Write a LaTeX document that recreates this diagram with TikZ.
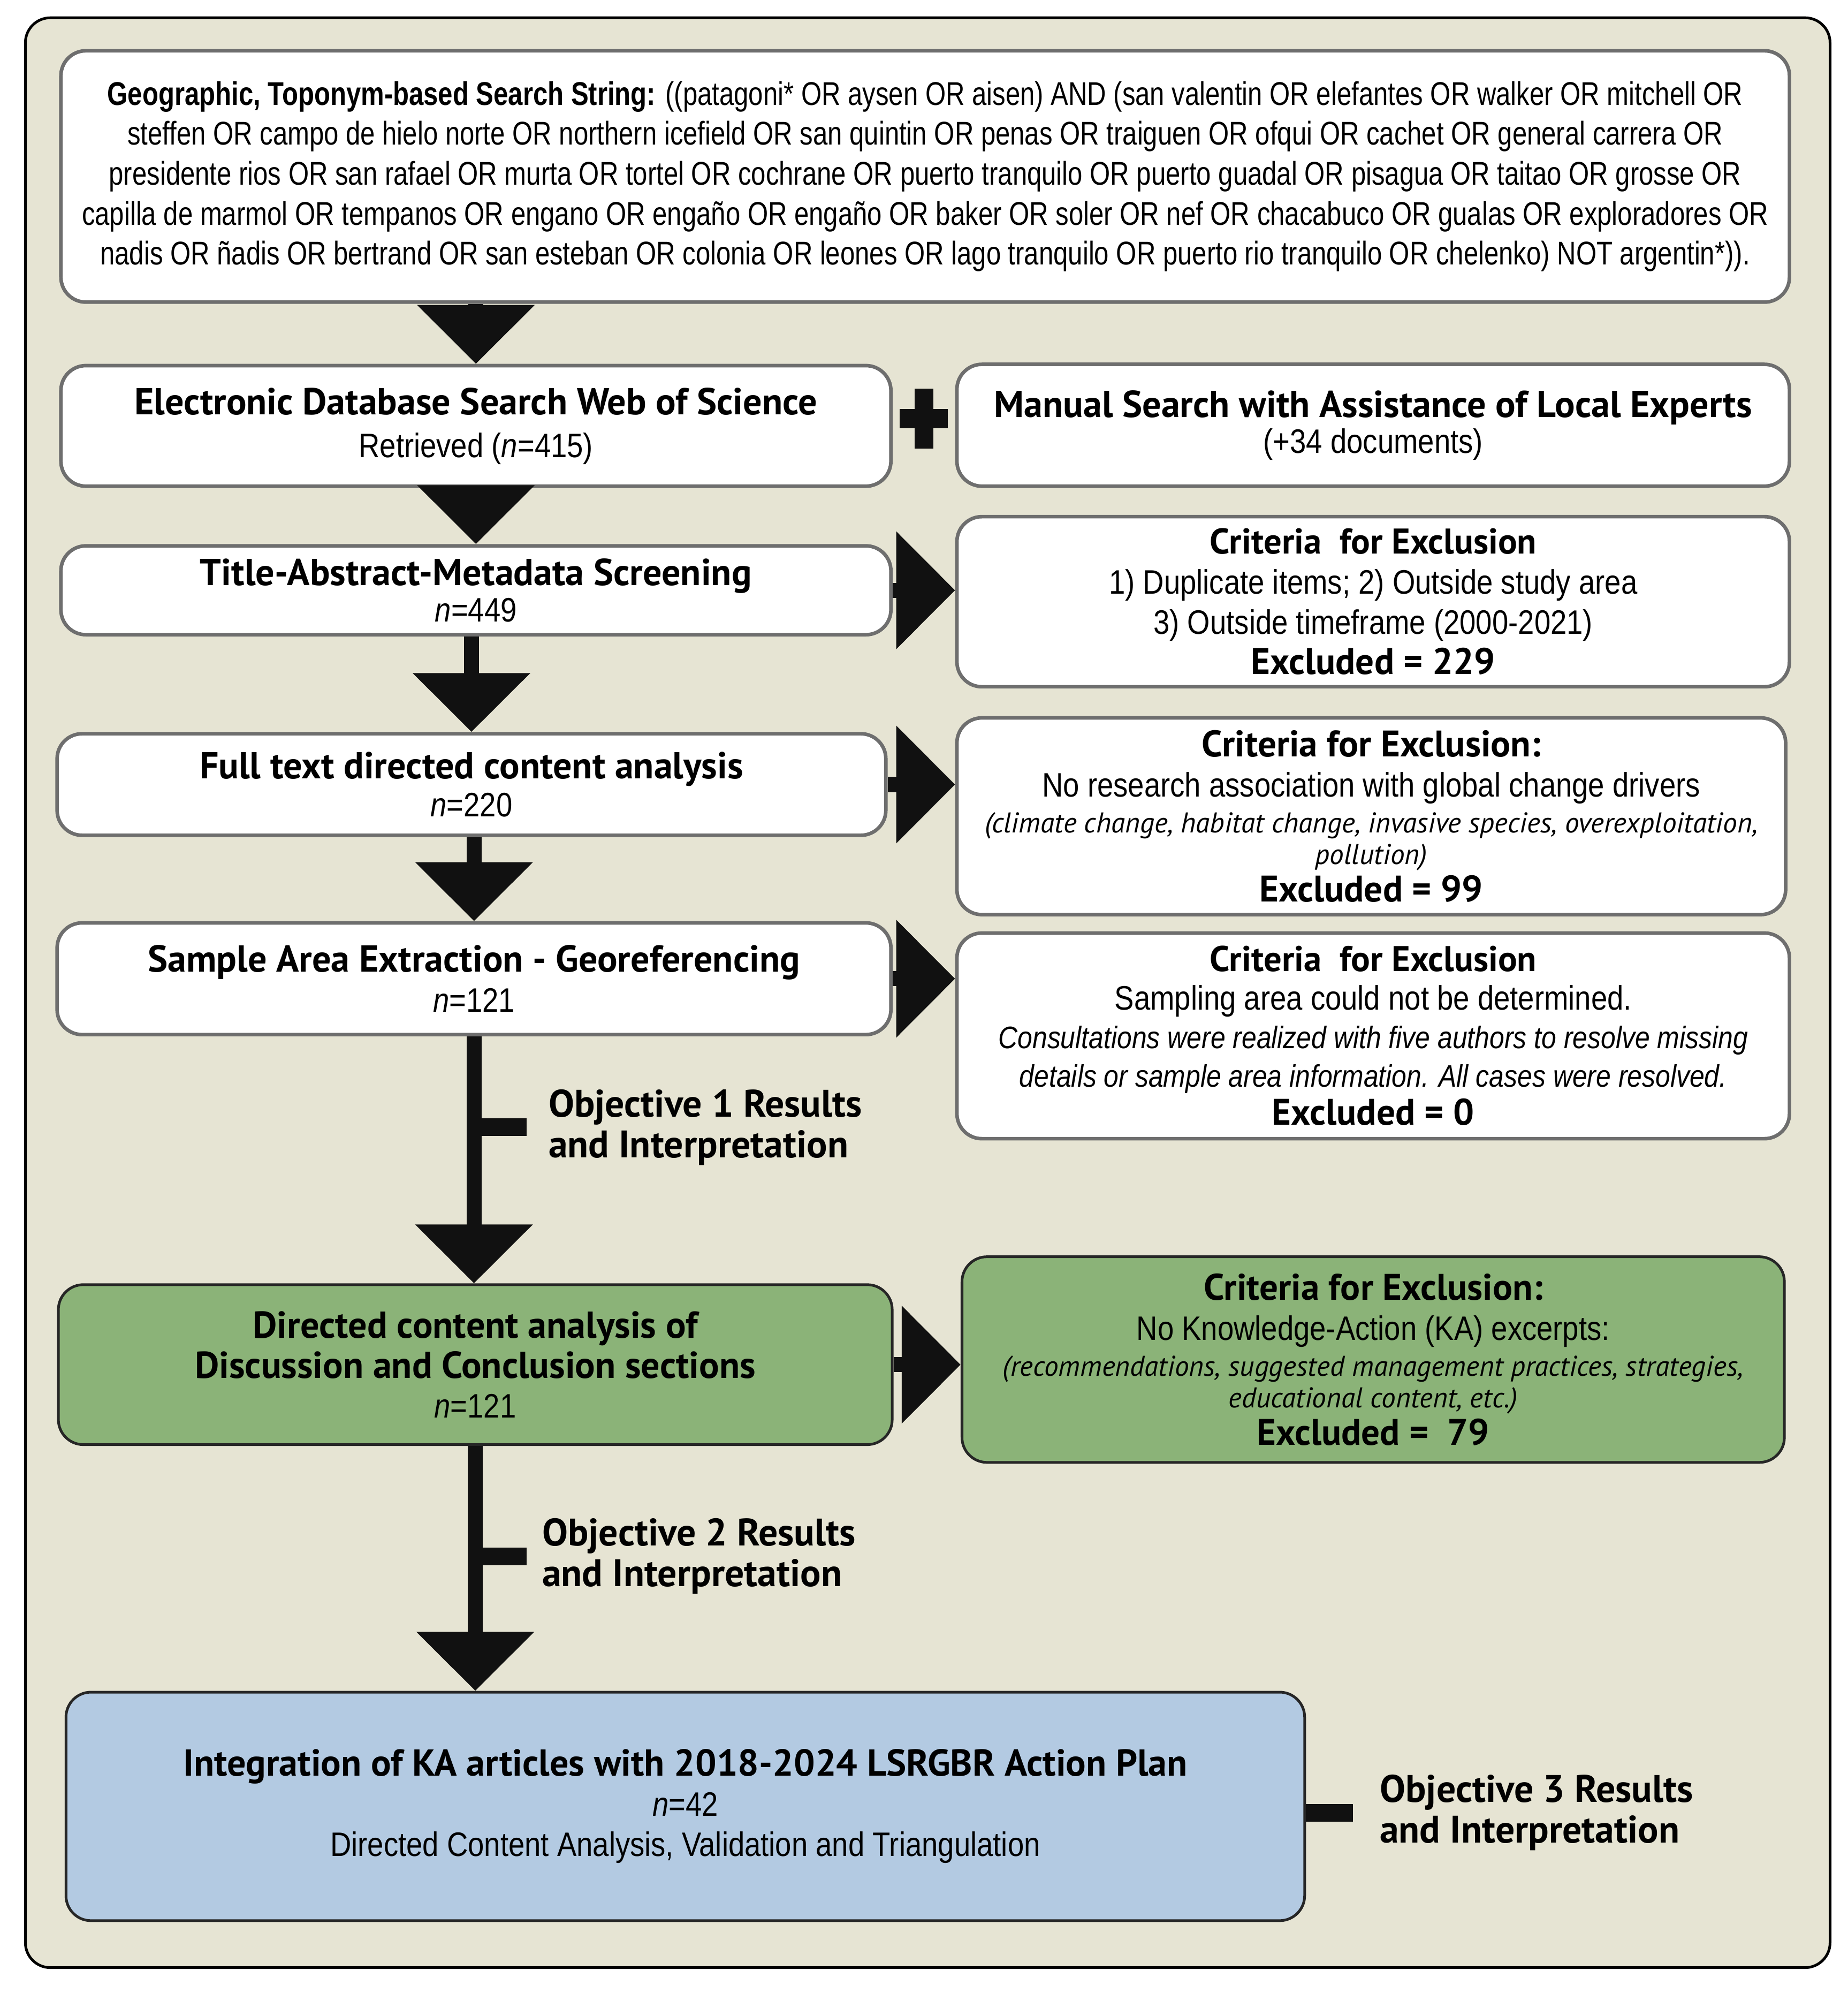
\documentclass[tikz,border=0pt]{standalone}
\usepackage{fontspec}
\setmainfont{PT Sans}
\newfontfamily\narf{Liberation Sans}[FakeStretch=0.8]
\newfontfamily\narb{Liberation Sans}[FakeStretch=0.86]
\usetikzlibrary{arrows.meta,calc}
\definecolor{bgc}{HTML}{E6E4D3}
\definecolor{grn}{HTML}{8BB378}
\definecolor{blu}{HTML}{B3CAE2}
\definecolor{boxedge}{HTML}{6E6E6E}
\definecolor{arr}{HTML}{111111}
\begin{document}
\begin{tikzpicture}[x=0.025cm,y=-0.025cm,
  box/.style={draw=boxedge, line width=2pt, fill=white, rounded corners=14pt, inner sep=0pt, align=center,
    font=\narb\fontsize{19}{22.5}\selectfont},
  gbox/.style={box, draw=black!85, line width=1.5pt, fill=grn},
  bbox/.style={box, draw=black!85, line width=1.5pt, fill=blu},
  flow/.style={line width=8.5pt, draw=arr, -{Triangle[length=33pt,width=64pt]}},
  tickline/.style={line width=10pt, draw=arr},
  objl/.style={font=\bfseries\fontsize{21.5}{22.8}\selectfont, align=left, anchor=west, inner sep=0pt}]
\newcommand{\ttl}[1]{{\rmfamily\bfseries\fontsize{21}{23}\selectfont #1}}
\newcommand{\crh}[1]{{\rmfamily\bfseries\fontsize{20}{23}\selectfont #1}}
\newcommand{\exl}[1]{{\rmfamily\bfseries\fontsize{20.7}{23}\selectfont #1}}
\newcommand{\sml}[1]{{\rmfamily\itshape\fontsize{16}{18}\selectfont #1}}
\newcommand{\cit}[1]{{\itshape\fontsize{17.4}{21}\selectfont #1}}
\useasboundingbox (0,0) rectangle (1456,1570);
\fill[white] (0,0) rectangle (1456,1570);
\draw[fill=bgc, line width=1.5pt, rounded corners=14pt] (20,14) rectangle (1442,1550);

\node[box, minimum width=1362*0.025cm, minimum height=198*0.025cm, font=\narf\fontsize{18.4}{22.4}\selectfont] (top) at (729,139)
{{\bfseries Geographic, Toponym-based Search String:} ((patagoni* OR aysen OR aisen) AND (san valentin OR elefantes OR walker OR mitchell OR\\
steffen OR campo de hielo norte OR northern icefield OR san quintin OR penas OR traiguen OR ofqui OR cachet OR general carrera OR\\
presidente rios OR san rafael OR murta OR tortel OR cochrane OR puerto tranquilo OR puerto guadal OR pisagua OR taitao OR grosse OR\\
capilla de marmol OR tempanos OR engano OR engaño OR engaño OR baker OR soler OR nef OR chacabuco OR gualas OR exploradores OR\\
nadis OR ñadis OR bertrand OR san esteban OR colonia OR leones OR lago tranquilo OR puerto rio tranquilo OR chelenko) NOT argentin*)).};

\node[box, minimum width=654*0.025cm, minimum height=95*0.025cm] (eds) at (375,335.5)
{\ttl{Electronic Database Search Web of Science}\\[1.5pt] Retrieved (\textit{n}=415)};
\node[box, minimum width=656*0.025cm, minimum height=96*0.025cm] (man) at (1082,335)
{\ttl{Manual Search with Assistance of Local Experts}\\[-2.5pt](+34 documents)};
\node[box, minimum width=654*0.025cm, minimum height=70*0.025cm] (tam) at (375,465)
{\ttl{Title-Abstract-Metadata Screening}\\[-2pt]\textit{n}=449};
\node[box, minimum width=656*0.025cm, minimum height=134*0.025cm] (cr1) at (1082,474)
{\crh{Criteria\ \ for Exclusion}\\1) Duplicate items; 2) Outside study area\\3) Outside timeframe (2000-2021)\\\exl{Excluded = 229}};
\node[box, minimum width=653*0.025cm, minimum height=80*0.025cm] (ftx) at (371.5,618)
{\ttl{Full text directed content analysis}\\[-1pt]\textit{n}=220};
\node[box, minimum width=653*0.025cm, minimum height=155*0.025cm] (cr2) at (1080.5,643)
{\exl{Criteria for Exclusion:}\\No research association with global change drivers\\[-2.5pt]
\sml{(climate change, habitat change, invasive species, overexploitation,}\\[-4.7pt]
\sml{pollution)}\\[-1.5pt]\exl{Excluded = 99}};
\node[box, minimum width=657*0.025cm, minimum height=88*0.025cm] (sae) at (373.5,771)
{\ttl{Sample Area Extraction - Georeferencing}\\\textit{n}=121};
\node[box, minimum width=656*0.025cm, minimum height=162*0.025cm] (cr3) at (1082,816)
{\crh{Criteria\ \ for Exclusion}\\[-1pt]Sampling area could not be determined.\\[-1pt]
\cit{Consultations were realized with five authors to resolve missing}\\[-1pt]
\cit{details or sample area information. All cases were resolved.}\\[-1pt]\exl{Excluded = 0}};
\node[gbox, minimum width=657*0.025cm, minimum height=126*0.025cm] (dca) at (374.5,1075)
{\ttl{Directed content analysis of}\\\ttl{Discussion and Conclusion sections}\\[-0.5pt]\textit{n}=121};
\node[gbox, minimum width=648*0.025cm, minimum height=162*0.025cm] (cr4) at (1082,1071)
{\exl{Criteria for Exclusion:}\\No Knowledge-Action (KA) excerpts:\\[-2.5pt]
\sml{(recommendations, suggested management practices, strategies,}\\[-4.7pt]
\sml{educational content, etc.)}\\[-1.5pt]\exl{Excluded =\ \ 79}};
\node[bbox, minimum width=976*0.025cm, minimum height=180*0.025cm] (int) at (540,1423)
{\ttl{Integration of KA articles with 2018-2024 LSRGBR Action Plan}\\\textit{n}=42\\Directed Content Analysis, Validation and Triangulation};

\node[objl] (o1) at (432,888) {Objective 1 Results\\and Interpretation};
\node[objl] (o2) at (427,1226) {Objective 2 Results\\and Interpretation};
\node[objl] (o3) at (1087,1428) {Objective 3 Results\\and Interpretation};

% plus sign
\path (eds.east) -- (man.west) coordinate[midway] (pl);
\fill[arr] ($(pl)+(-7.5,-29)$) rectangle ($(pl)+(7.5,18)$);
\fill[arr] ($(pl)+(-19,-13)$) rectangle ($(pl)+(19,2)$);

% vertical flow
\draw[flow] (eds.north |- top.south) -- (eds.north);
\draw[flow] (tam.north |- eds.south) -- (tam.north);
\draw[flow] (ftx.north |- tam.south) -- (ftx.north);
\draw[flow] (sae.north |- ftx.south) -- (sae.north);
\draw[flow] (sae.south) -- (sae.south |- dca.north);
\draw[flow] (dca.south) -- (dca.south |- int.north);
% right arrows
\draw[flow] (tam.east) -- (tam.east -| cr1.west);
\draw[flow] (ftx.east) -- (ftx.east -| cr2.west);
\draw[flow] (sae.east) -- (sae.east -| cr3.west);
\draw[flow] (dca.east) -- (dca.east -| cr4.west);
% objective ticks
\draw[tickline] (sae.south |- o1.west) -- ($(o1.west)+(-17,0)$);
\draw[tickline] (dca.south |- o2.west) -- ($(o2.west)+(-12,0)$);
\draw[tickline] (int.east |- o3.west) -- ($(o3.west)+(-21,0)$);
\end{tikzpicture}
\end{document}
